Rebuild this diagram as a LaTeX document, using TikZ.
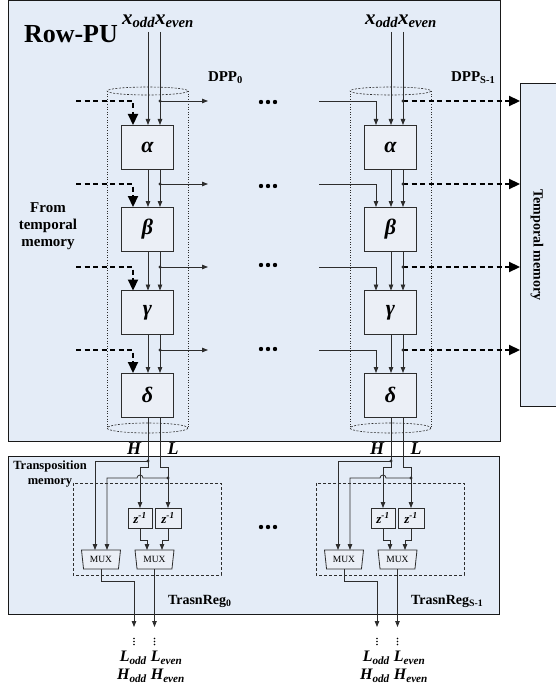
\documentclass[tikz,border=0pt]{standalone}
\usepackage{fontspec}
\setmainfont{Liberation Serif}
\usetikzlibrary{arrows.meta,shapes.geometric,calc}
\definecolor{bgblue}{RGB}{228,236,247}
\definecolor{boxfill}{RGB}{235,239,246}
\definecolor{ln}{RGB}{45,45,45}
\definecolor{frmcol}{RGB}{25,25,25}
\begin{document}
\begin{tikzpicture}[x=1pt,y=-1pt,
  every node/.style={inner sep=0pt,outer sep=0pt},
  unit/.style={draw=ln,fill=boxfill,line width=0.9pt,minimum width=52pt,minimum height=44pt,font=\fontsize{22}{22}\selectfont\bfseries\itshape},
  zbox/.style={draw=ln,fill=boxfill,line width=0.9pt,minimum height=20pt,font=\fontsize{13}{13}\selectfont\bfseries\itshape},
  mux/.style={trapezium,draw=ln,fill=boxfill,line width=0.8pt,shape border rotate=180,trapezium left angle=72,trapezium right angle=72,trapezium stretches body=true,minimum width=39pt,minimum height=19pt,inner xsep=1pt,font=\fontsize{9.5}{9.5}\selectfont},
  sline/.style={draw=ln,line width=0.8pt},
  sarr/.style={sline,-{Triangle[length=6pt,width=4.5pt]}},
  darr/.style={draw=black,line width=2.2pt,dash pattern=on 5pt off 3.5pt,-{Triangle[length=11pt,width=10pt]}},
  cylside/.style={draw=ln,line width=0.6pt,dotted},
  cylend/.style={draw=ln,line width=0.6pt,dash pattern=on 2pt off 1.5pt},
  container/.style={draw=frmcol,fill=bgblue,line width=1pt},
  xlab/.style={font=\fontsize{21}{21}\selectfont\bfseries\itshape},
  dpplab/.style={font=\fontsize{15}{15}\selectfont\bfseries,anchor=west},
  reglab/.style={font=\fontsize{14}{14}\selectfont\bfseries,anchor=west},
  hllab/.style={font=\fontsize{18}{18}\selectfont\bfseries\itshape},
  outlab/.style={font=\fontsize{16}{16}\selectfont\bfseries\itshape},
  tapdot/.style={fill=ln}
]
\useasboundingbox (0,0) rectangle (555,687);

% containers
\draw[container] (8,1) rectangle (500,441);
\draw[container] (8,456) rectangle (499,614);
\node[container,minimum width=80pt,minimum height=322pt] (tm) at (560,245) {};
\node[rotate=-90,font=\fontsize{14}{14}\selectfont\bfseries] (tmtext) at (537,245) {Temporal memory};

\node[font=\fontsize{26}{26}\selectfont\bfseries,anchor=west] (rowpu) at (24,34) {Row-PU};
\node[align=center,font=\fontsize{15}{17}\selectfont\bfseries] (fromtm) at (48,226) {From\\temporal\\memory};
\node[align=center,font=\fontsize{12.5}{15}\selectfont\bfseries] (tpm) at (50,474) {Transposition\\memory};

% ellipsis marks between columns
\foreach \yy in {102,186,265,349,527}{
  \foreach \xx in {261,268,275}{\fill (\xx,\yy) circle (2.2pt);}
}

\foreach \c/\dx/\sb in {0/0/0,1/243/S-1}{
\begin{scope}[xshift=\dx]
  % cylinder
  \draw[cylside] (107,91) -- (107,428);
  \draw[cylside] (188,91) -- (188,428);
  \draw[cylend] (147.5,91) ellipse [x radius=40.5,y radius=4];
  \draw[cylend] (147.5,428) ellipse [x radius=40.5,y radius=5];

  \node[dpplab] (dpp\c) at (208,78) {DPP\textsubscript{\sb}};
  \node[xlab] (xin\c) at (158,21) {x\textsubscript{odd}x\textsubscript{even}};

  \node[unit] (al\c) at (147.5,147) {α};
  \node[unit] (be\c) at (147.5,229) {β};
  \node[unit] (ga\c) at (147.5,312.5) {γ};
  \node[unit] (de\c) at (147.5,395) {δ};

  \coordinate (xd\c) at (133,32);
  \coordinate (xo\c) at (148,32);
  \coordinate (xe\c) at (160,32);

  \draw[sarr] (xo\c) -- (xo\c |- al\c.north);
  \draw[sarr] (xe\c) -- (xe\c |- al\c.north);

  \foreach \p/\q in {al/be,be/ga,ga/de}{
    \draw[sarr] (\p\c.south -| xo\c) -- (\q\c.north -| xo\c);
    \draw[sarr] (\p\c.south -| xe\c) -- (\q\c.north -| xe\c);
  }

  \foreach \b/\y in {al/101,be/184,ga/267,de/350}{
    \coordinate (t\b\c) at (160,\y);
    \coordinate (in\b\c) at (76,\y);
    \coordinate (out\b\c) at (208,\y);
    \ifnum\c=0
      \draw[darr] (in\b\c) -| (xd\c |- \b\c.north);
      \draw[sarr] (t\b\c) -- (out\b\c);
    \else
      \draw[sarr] (in\b\c) -| (xd\c |- \b\c.north);
      \draw[darr] (t\b\c) -- (tm.west |- t\b\c);
    \fi
    \fill[tapdot] (t\b\c) circle (1.6pt);
  }

  % H / L outputs
  \node[hllab] (H\c) at (134,449) {H};
  \node[hllab] (L\c) at (173,449) {L};

  % transposition memory
  \draw[draw=ln,line width=0.8pt,dash pattern=on 3pt off 2pt] (73,483) rectangle (221,575);
  \node[zbox,minimum width=24pt] (za\c) at (140,518) {z\textsuperscript{-1}};
  \node[zbox,minimum width=26pt] (zb\c) at (168,518) {z\textsuperscript{-1}};
  \node[mux] (ma\c) at (101,559.5) {MUX};
  \node[mux] (mb\c) at (154.5,559.5) {MUX};

  \coordinate (Hd\c) at (148,461);
  \coordinate (Lj\c) at (160,467);
  \coordinate (Ld\c) at (168,478);
  \coordinate (oL\c) at (134,627);
  \coordinate (oR\c) at (154.5,627);

  \draw[sline] (de\c.south -| xo\c) -- (Hd\c);
  \draw[sarr] (Hd\c) -| ($(ma\c.north)+(-6,0)$);
  \draw[sarr] (Hd\c) -- ++(0,6) -- ++(-8,0) -- (za\c.north);
  \draw[sarr] (de\c.south -| xe\c) -- (Lj\c) -- ++(8,0) -- (zb\c.north);
  \draw[sarr] (Ld\c) -- (143,478) arc[start angle=0,end angle=180,radius=3pt] -- (107,478) -- ($(ma\c.north)+(6,0)$);
  \fill[tapdot] (Hd\c) circle (1.6pt);
  \fill[tapdot] (Ld\c) circle (1.6pt);

  \draw[sarr] (za\c.south) -- ++(0,12) -| ($(mb\c.north)+(-7.5,0)$);
  \draw[sarr] (zb\c.south) -- ++(0,12) -| ($(mb\c.north)+(7.5,0)$);
  \draw[sarr] (ma\c.south) -- ++(0,12) -| (oL\c);
  \draw[sarr] (mb\c.south) -- (oR\c);

  \node[reglab] (reg\c) at (168,601) {TrasnReg\textsubscript{\sb}};

  \foreach \yy in {638.5,641.5,644.5}{
    \fill (134,\yy) circle (0.9pt);
    \fill (154.5,\yy) circle (0.9pt);
  }
  \node[outlab] (lo\c) at (151,658) {L\textsubscript{odd} L\textsubscript{even}};
  \node[outlab] (ho\c) at (151,676) {H\textsubscript{odd} H\textsubscript{even}};
\end{scope}
}
\end{tikzpicture}
\end{document}
